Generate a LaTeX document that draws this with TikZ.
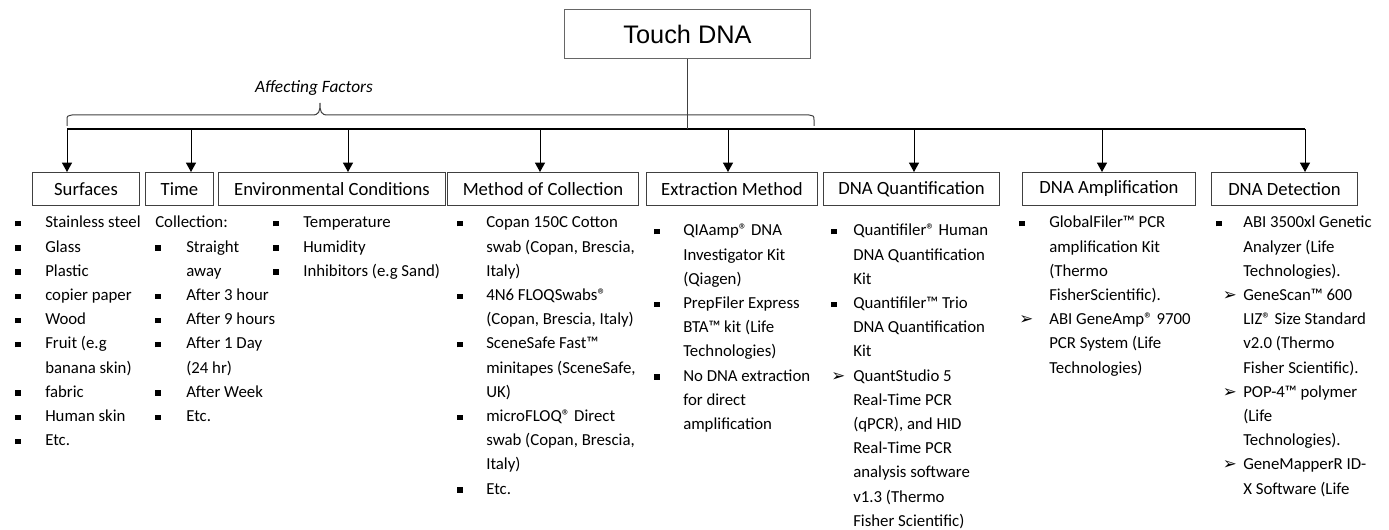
\documentclass[tikz,border=0pt]{standalone}
\usepackage{fontspec}
\setmainfont{Carlito}
\newfontfamily\headfont{Liberation Sans}
\newfontfamily\symfont{DejaVu Sans}
\usetikzlibrary{arrows.meta}

% bullets and the item lists
\newcommand\sq{\raisebox{1.2pt}{\rule{4pt}{4pt}}}
\newcommand\arrbul{{\symfont\fontsize{12.5}{10}\selectfont ➢}}
\newcommand\blist[2]{\begin{tabular}[t]{@{}p{#1}@{}l@{}}#2\end{tabular}}

\begin{document}
\begin{tikzpicture}[x=0.75pt,y=-0.75pt,
  box/.style={draw=black!75, line width=0.75pt, minimum height=24.75pt, inner sep=0pt,
    anchor=north west, font=\fontsize{14}{16}\selectfont},
  items/.style={inner sep=0pt, anchor=base west, font=\fontsize{12.6}{18.15}\selectfont},
  arrow/.style={-{Triangle[length=7pt,width=7.5pt]}, line width=0.75pt}]
\useasboundingbox (0,0) rectangle (1389,530);

% Top box
\node[draw=black!60, line width=0.75pt, minimum width=185pt, minimum height=36.4pt,
  font=\headfont\fontsize{19}{21}\selectfont] (touch) at (687.5,34) {Touch DNA};

% Brace over the factors
\node[font=\itshape\fontsize{13}{15}\selectfont] (factors) at (314,88) {Affecting Factors};
\draw[black!75, line width=0.75pt] (67,126) -- (67,120) .. controls (67,116) .. (72,115)
  -- (312,115) .. controls (319,115) and (320,112) .. (320,103)
  .. controls (320,112) and (321,115) .. (328,115) -- (809,115)
  .. controls (814,116) .. (814,120) -- (814,126);

% Headings
\node[box, minimum width=80.25pt] (surf) at (32,172) {Surfaces};
\node[box, minimum width=51pt] (time) at (145,172) {Time};
\node[box, minimum width=170.25pt] (env) at (218,172) {Environmental Conditions};
\node[box, minimum width=143.25pt] (coll) at (447,172) {Method of Collection};
\node[box, minimum width=128.25pt] (extr) at (646,172) {Extraction Method};
\node[box, minimum width=132pt] (quant) at (823,172) {DNA Quantification};
\node[box, minimum width=129.75pt] (ampl) at (1022,172) {DNA Amplification};
\node[box, minimum width=109.5pt] (detect) at (1211,172) {DNA Detection};

% Bus line and arrows
\coordinate (b1) at (67,129);
\coordinate (b2) at (191,129);
\coordinate (b3) at (348,129);
\coordinate (b4) at (540,129);
\coordinate (b5) at (728,129);
\coordinate (b6) at (914,129);
\coordinate (b7) at (1102,129);
\coordinate (b8) at (1305,129);
\draw[line width=1.1pt] (b1) -- (b8);
\draw[line width=0.75pt, black!75] (touch.south) -- (touch.south |- b1);
\foreach \b/\n in {b1/surf, b2/time, b3/env, b4/coll, b5/extr, b6/quant, b7/ampl, b8/detect}
  \draw[arrow] (\b) -- (\b |- \n.north);

% Lists
\node[items] (surflist) at (15,228) {\blist{22.5pt}{
  \sq & Stainless steel\\
  \sq & Glass\\
  \sq & Plastic\\
  \sq & copier paper\\
  \sq & Wood\\
  \sq & Fruit (e.g\\
      & banana skin)\\
  \sq & fabric\\
  \sq & Human skin\\
  \sq & Etc.}};
\node[items] (timelist) at (155,228) {\blist{23.25pt}{
  \multicolumn{2}{@{}l@{}}{Collection:}\\
  \sq & Straight\\
      & away\\
  \sq & After 3 hour\\
  \sq & After 9 hours\\
  \sq & After 1 Day\\
      & (24 hr)\\
  \sq & After Week\\
  \sq & Etc.}};
\node[items] (envlist) at (273,228) {\blist{22.5pt}{
  \sq & Temperature\\
  \sq & Humidity\\
  \sq & Inhibitors (e.g Sand)}};
\node[items] (colllist) at (457,228) {\blist{21.75pt}{
  \sq & Copan 150C Cotton\\
      & swab (Copan, Brescia,\\
      & Italy)\\
  \sq & 4N6 FLOQSwabs®\\
      & (Copan, Brescia, Italy)\\
  \sq & SceneSafe Fast™\\
      & minitapes (SceneSafe,\\
      & UK)\\
  \sq & microFLOQ® Direct\\
      & swab (Copan, Brescia,\\
      & Italy)\\
  \sq & Etc.}};
\node[items] (extrlist) at (654,236) {\blist{21.75pt}{
  \sq & QIAamp® DNA\\
      & Investigator Kit\\
      & (Qiagen)\\
  \sq & PrepFiler Express\\
      & BTA™ kit (Life\\
      & Technologies)\\
  \sq & No DNA extraction\\
      & for direct\\
      & amplification}};
\node[items] (quantlist) at (831,236) {\blist{16.5pt}{
  \sq & Quantifiler® Human\\
      & DNA Quantification\\
      & Kit\\
  \sq & Quantifiler™ Trio\\
      & DNA Quantification\\
      & Kit\\
  \arrbul & QuantStudio 5\\
      & Real-Time PCR\\
      & (qPCR), and HID\\
      & Real-Time PCR\\
      & analysis software\\
      & v1.3 (Thermo\\
      & Fisher Scientific)}};
\node[items] (ampllist) at (1019,228) {\blist{22.5pt}{
  \sq & GlobalFiler™ PCR\\
      & amplification Kit\\
      & (Thermo\\
      & FisherScientific).\\
  \arrbul & ABI GeneAmp® 9700\\
      & PCR System (Life\\
      & Technologies)}};
\node[items] (detectlist) at (1216,228) {\blist{20.25pt}{
  \sq & ABI 3500xl Genetic\\
      & Analyzer (Life\\
      & Technologies).\\
  \hspace*{5pt}\arrbul & GeneScan™ 600\\
      & LIZ® Size Standard\\
      & v2.0 (Thermo\\
      & Fisher Scientific).\\
  \hspace*{5pt}\arrbul & POP-4™ polymer\\
      & (Life\\
      & Technologies).\\
  \hspace*{5pt}\arrbul & GeneMapperR ID-\\
      & X Software (Life}};
\end{tikzpicture}
\end{document}
